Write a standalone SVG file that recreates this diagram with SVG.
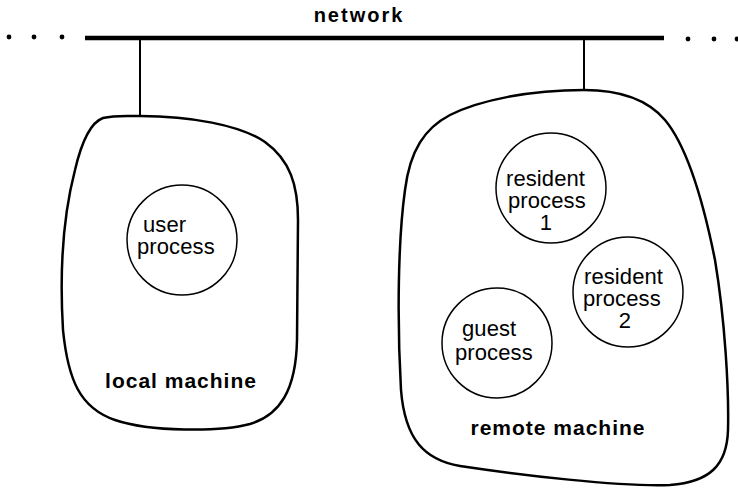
<svg xmlns="http://www.w3.org/2000/svg" width="738" height="490" viewBox="0 0 738 490">
<style>
.blob{fill:none;stroke:#000;stroke-width:2.5}
.proc{fill:none;stroke:#000;stroke-width:1.5}
.t{font-family:"Liberation Sans",Arial,sans-serif;font-size:22px;fill:#000;letter-spacing:0.1px}
.b{font-family:"Liberation Sans",Arial,sans-serif;font-size:21px;font-weight:bold;fill:#000;letter-spacing:1px}
.dot{fill:#000}
</style>
<rect width="738" height="490" fill="#fff"/>
<g id="network">
<text class="b" x="359" y="22" text-anchor="middle" style="font-size:20px;letter-spacing:2px">network</text>
<line x1="85" y1="38" x2="664" y2="38" stroke="#000" stroke-width="4.5"/>
<circle class="dot" cx="9" cy="37" r="2.4"/>
<circle class="dot" cx="34" cy="37" r="2.4"/>
<circle class="dot" cx="62" cy="37" r="2.4"/>
<circle class="dot" cx="688" cy="39" r="2.4"/>
<circle class="dot" cx="714" cy="39" r="2.4"/>
<circle class="dot" cx="737" cy="39" r="2.4"/>
</g>
<g id="connectors" stroke="#000" stroke-width="2">
<line x1="140" y1="38" x2="140" y2="117"/>
<line x1="584" y1="38" x2="584" y2="91"/>
</g>
<g id="local-machine">
<path class="blob" d="M 140 116 C 190 116, 240 125, 265 142 C 290 160, 298 185, 298 220 L 297 340 C 296 390, 280 415, 250 424 C 220 432, 150 432, 115 420 C 80 408, 68 380, 63 330 C 60 280, 62 220, 75 170 C 82 140, 92 122, 103 118 C 115 115, 125 116, 140 116 Z"/>
<text class="b" x="181" y="388" text-anchor="middle">local machine</text>
</g>
<g id="user-process">
<circle class="proc" cx="182" cy="240" r="55"/>
<text class="t" x="143" y="232">user</text>
<text class="t" x="137" y="254">process</text>
</g>
<g id="remote-machine">
<path class="blob" d="M 584 90 C 620 90, 648 100, 665 120 C 690 150, 705 210, 715 260 C 725 320, 729 390, 728 430 C 727 465, 710 482, 670 485 C 620 487, 520 475, 460 466 C 425 460, 405 440, 401 390 C 397 320, 398 240, 405 190 C 410 150, 425 128, 450 115 C 480 100, 530 90, 584 90 Z"/>
<text class="b" x="558" y="435" text-anchor="middle">remote machine</text>
</g>
<g id="resident-process-1">
<circle class="proc" cx="551" cy="188" r="55"/>
<text class="t" x="506" y="186">resident</text>
<text class="t" x="508" y="208">process</text>
<text class="t" x="546" y="230" text-anchor="middle">1</text>
</g>
<g id="resident-process-2">
<circle class="proc" cx="628" cy="292" r="55"/>
<text class="t" x="584" y="284">resident</text>
<text class="t" x="583" y="306">process</text>
<text class="t" x="625" y="328" text-anchor="middle">2</text>
</g>
<g id="guest-process">
<circle class="proc" cx="497" cy="343" r="55"/>
<text class="t" x="462" y="336">guest</text>
<text class="t" x="455" y="360">process</text>
</g>
</svg>
